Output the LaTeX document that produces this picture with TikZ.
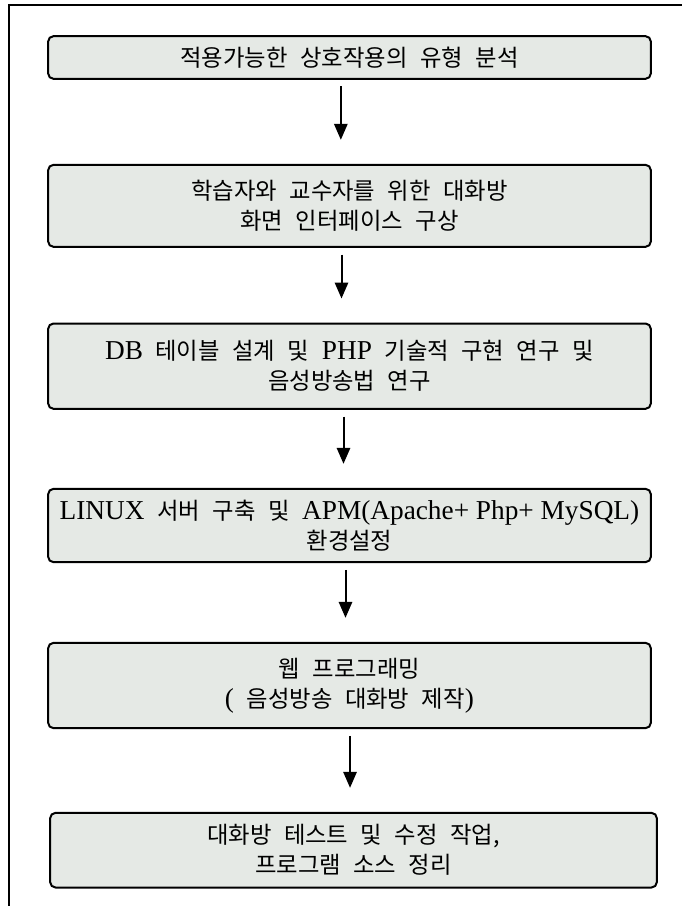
\documentclass[tikz,border=0pt]{standalone}
\usepackage{fontspec}
\setmainfont[Scale=1.17]{Liberation Serif}
\newfontfamily\kr[WordSpace=2.4]{Noto Sans CJK KR}
\usetikzlibrary{positioning,arrows.meta}
\definecolor{boxfill}{RGB}{229,233,229}
\newcommand\en[1]{{\rmfamily #1}}

\begin{document}
\begin{tikzpicture}[x=0.75pt,y=-0.75pt,
  every node/.style={font=\kr\fontsize{17.5}{22.5}\selectfont},
  flowbox/.style={draw=black,fill=boxfill,line width=1.5pt,rounded corners=4pt,minimum width=452pt,align=center,inner sep=2pt},
  flow/.style={line width=1.5pt,-{Triangle[length=12pt,width=10pt]},shorten <=5pt,shorten >=18pt}]

\useasboundingbox (0,0) rectangle (682,906);
% page frame
\draw[line width=1.5pt] (9,906) -- (9,5) -- (682,5);

\node[flowbox,minimum height=32pt] (analysis) at (349.5,57.5) {적용가능한 상호작용의 유형 분석};
\node[flowbox,minimum height=61.5pt,below=63pt of analysis] (chatui)
  {학습자와 교수자를 위한 대화방\\화면 인터페이스 구상};
\node[flowbox,minimum height=64pt,below=56pt of chatui] (dbdesign)
  {\en{DB} 테이블 설계 및 \en{PHP} 기술적 구현 연구 및\\음성방송법 연구};
\node[flowbox,minimum height=55pt,below=58.5pt of dbdesign] (server)
  {\en{LINUX} 서버 구축 및 \en{APM(Apache+ Php+ MySQL)}\\환경설정};
\node[flowbox,minimum height=64pt,below=59pt of server] (webprog)
  {웹 프로그래밍\\\en{(} 음성방송 대화방 제작\en{)}};
\node[flowbox,minimum height=56pt,minimum width=455pt,below=62pt of webprog,xshift=3pt] (chattest)
  {대화방 테스트 및 수정 작업,\\프로그램 소스 정리};

% arrows
\draw[flow] ([xshift=-6.5pt]analysis.south) -- ([xshift=-6.5pt]chatui.north);
\draw[flow] ([xshift=-6pt]chatui.south) -- ([xshift=-6pt]dbdesign.north);
\draw[flow] ([xshift=-4.5pt]dbdesign.south) -- ([xshift=-4.5pt]server.north);
\draw[flow] ([xshift=-3pt]server.south) -- ([xshift=-3pt]webprog.north);
\draw[flow] ([xshift=0.4pt]webprog.south) -- ([xshift=-2.6pt]chattest.north);
\end{tikzpicture}
\end{document}
